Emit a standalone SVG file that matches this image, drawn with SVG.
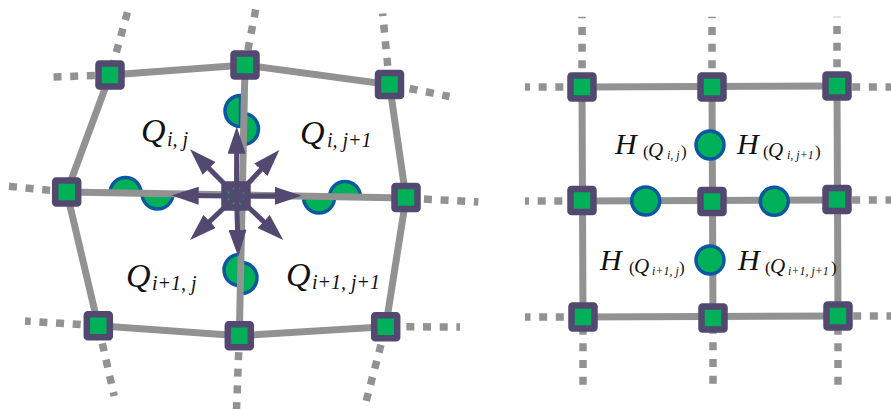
<svg xmlns="http://www.w3.org/2000/svg" width="891" height="409" viewBox="0 0 891 409">
<defs>
<style>
.ln{stroke:#929292;stroke-width:7;fill:none;stroke-linecap:butt}
.dt{stroke:#929292;stroke-width:7.5;fill:none;stroke-dasharray:8 8.67}
.nd{fill:#00b15a;stroke:#534870;stroke-width:6.5}
.cc{fill:#00b15a;stroke:#0c58a0;stroke-width:3.5}
.ar{stroke:#534870;stroke-width:5;fill:none;marker-end:url(#ah)}
.t{font-family:"Liberation Serif","Times New Roman",serif;font-style:italic;fill:#111}
.p{font-family:"Liberation Serif","Times New Roman",serif;font-style:normal;fill:#111}
</style>
<marker id="ah" markerUnits="userSpaceOnUse" markerWidth="27" markerHeight="18" refX="17" refY="9" orient="auto">
<path d="M0,0 L27,9 L0,18 Z" fill="#534870"/>
</marker>
</defs>
<rect width="891" height="409" fill="#ffffff"/>

<g id="connectors">
<path class="dt" d="M110,75 L53,77" stroke-dashoffset="1.5"/>
<path class="dt" d="M110,75 L127.8,11" stroke-dashoffset="-7"/>
<path class="dt" d="M245,65 L255.8,9" stroke-dashoffset="1.5"/>
<path class="dt" d="M389.5,84.5 L382.7,13.5" stroke-dashoffset="-2.1"/>
<path class="dt" d="M389.5,84.5 L449.5,96.5" stroke-dashoffset="-3.8"/>
<path class="dt" d="M66.7,192 L8.5,186.3" stroke-dashoffset="0"/>
<path class="dt" d="M406,198 L478.3,202" stroke-dashoffset="-1.3"/>
<path class="dt" d="M98.3,325.7 L25,321" stroke-dashoffset="-1"/>
<path class="dt" d="M98.3,325.7 L114.2,396" stroke-dashoffset="-1.5"/>
<path class="dt" d="M239.3,335.7 L236.5,410" stroke-dashoffset="0.3"/>
<path class="dt" d="M385.7,326.7 L460,327" stroke-dashoffset="-4"/>
<path class="dt" d="M385.7,326.7 L365.7,403" stroke-dashoffset="-2"/>
<path class="dt" d="M582,87 L525,87" stroke-dashoffset="-2"/>
<path class="dt" d="M582,201 L525,201" stroke-dashoffset="-3"/>
<path class="dt" d="M583,317 L525,317" stroke-dashoffset="-2.5"/>
<path class="dt" d="M837,87 L891,87" stroke-dashoffset="1.5"/>
<path class="dt" d="M837,200 L891,200" stroke-dashoffset="1.5"/>
<path class="dt" d="M838,316 L891,316" stroke-dashoffset="1.5"/>
<path class="dt" d="M582,87 L582,16.7" stroke-dashoffset="-2"/>
<path class="dt" d="M712,87 L712,16.7" stroke-dashoffset="-2"/>
<path class="dt" d="M837,86 L837,16.7" stroke-dashoffset="-2"/>
<path class="dt" d="M583,317 L583,387" stroke-dashoffset="7"/>
<path class="dt" d="M713,318 L713,387" stroke-dashoffset="9"/>
<path class="dt" d="M838,316 L838,387" stroke-dashoffset="6"/>
</g>

<g id="arcs">
<path class="cc" d="M240.5,95.5 A15.5,15.5 0 0 0 240.5,126.5 Z"/>
<path class="cc" d="M243,113.5 A15.5,15.5 0 0 1 243,144.5 Z"/>
<path class="cc" d="M110,193 A15.5,15.5 0 0 1 141,193 Z"/>
<path class="cc" d="M142,193.5 A15.5,15.5 0 0 0 173,193.5 Z"/>
<path class="cc" d="M329.5,197 A15.5,15.5 0 0 1 360.5,197 Z"/>
<path class="cc" d="M303.5,197.5 A15.5,15.5 0 0 0 334.5,197.5 Z"/>
<path class="cc" d="M239.5,254.5 A15.5,15.5 0 0 0 239.5,285.5 Z"/>
<path class="cc" d="M241.5,262.5 A15.5,15.5 0 0 1 241.5,293.5 Z"/>
</g>

<g id="grid-lines">
<path class="ln" d="M110,75 L245,65 L389.5,84.5 L406,198 L385.7,326.7 L239.3,335.7 L98.3,325.7 L66.7,192 Z"/>
<path class="ln" d="M66.7,192 L406,198"/>
<path class="ln" d="M245,65 L239.3,335.7"/>
<path class="ln" d="M582,87 L837,86 M582,201 L837,200 M583,317 L838,316"/>
<path class="ln" d="M582,87 L583,317 M712,87 L713,318 M837,86 L838,316"/>
</g>

<g id="face-circles-right">
<circle class="cc" cx="710" cy="145" r="14"/>
<circle class="cc" cx="645.7" cy="201" r="14"/>
<circle class="cc" cx="774.3" cy="201.3" r="14"/>
<circle class="cc" cx="710" cy="260" r="14"/>
</g>

<g id="node-L1"><rect class="nd" x="98.5" y="63.5" width="23" height="23" rx="1"/></g>
<g id="node-L2"><rect class="nd" x="233.5" y="53.5" width="23" height="23" rx="1"/></g>
<g id="node-L3"><rect class="nd" x="378" y="73" width="23" height="23" rx="1"/></g>
<g id="node-L4"><rect class="nd" x="55.2" y="180.5" width="23" height="23" rx="1"/></g>
<g id="node-L6"><rect class="nd" x="394.5" y="186" width="23" height="23" rx="1"/></g>
<g id="node-L7"><rect class="nd" x="86.8" y="314.2" width="23" height="23" rx="1"/></g>
<g id="node-L8"><rect class="nd" x="227.8" y="324.2" width="23" height="23" rx="1"/></g>
<g id="node-L9"><rect class="nd" x="374.2" y="315.2" width="23" height="23" rx="1"/></g>
<g id="node-L5"><rect class="nd" x="224.5" y="184.5" width="23" height="23" rx="1"/></g>

<g id="arrows">
<path class="ar" d="M236.5,196 L236.7,136.7"/>
<path class="ar" d="M236.5,196 L238,246.7"/>
<path class="ar" d="M236.5,196 L181.7,195.5"/>
<path class="ar" d="M236.5,196 L291.7,195.7"/>
<path class="ar" d="M236.5,196 L197.1,156.4"/>
<path class="ar" d="M236.5,196 L272.5,157.3"/>
<path class="ar" d="M236.5,196 L197.3,233.1"/>
<path class="ar" d="M236.5,196 L276,233.2"/>
</g>

<g id="node-R1"><rect class="nd" x="570.5" y="75.5" width="23" height="23" rx="1"/></g>
<g id="node-R2"><rect class="nd" x="700.5" y="75.5" width="23" height="23" rx="1"/></g>
<g id="node-R3"><rect class="nd" x="825.5" y="74.5" width="23" height="23" rx="1"/></g>
<g id="node-R4"><rect class="nd" x="570.5" y="189" width="23" height="23" rx="1"/></g>
<g id="node-R5"><rect class="nd" x="700.5" y="190" width="23" height="23" rx="1"/></g>
<g id="node-R6"><rect class="nd" x="825.5" y="188" width="23" height="23" rx="1"/></g>
<g id="node-R7"><rect class="nd" x="571.5" y="305.5" width="23" height="23" rx="1"/></g>
<g id="node-R8"><rect class="nd" x="701.5" y="306.5" width="23" height="23" rx="1"/></g>
<g id="node-R9"><rect class="nd" x="826.5" y="304.5" width="23" height="23" rx="1"/></g>

<g id="labels-left">
<text class="t"><tspan x="141" y="142" font-size="34">Q</tspan><tspan x="167" y="146" font-size="20">i, j</tspan></text>
<text class="t"><tspan x="300" y="144" font-size="34">Q</tspan><tspan x="327" y="147" font-size="20">i, j+1</tspan></text>
<text class="t"><tspan x="126" y="287" font-size="34">Q</tspan><tspan x="152" y="290" font-size="20">i+1, j</tspan></text>
<text class="t"><tspan x="286" y="286" font-size="34">Q</tspan><tspan x="312" y="289" font-size="20">i+1, j+1</tspan></text>
</g>

<g id="labels-right">
<text><tspan class="t" x="615" y="154" font-size="30">H</tspan><tspan class="p" x="643" y="157" font-size="17">(</tspan><tspan class="t" x="648" y="157" font-size="21">Q</tspan><tspan class="t" x="667" y="159" font-size="12">i, j</tspan><tspan class="p" x="681" y="157" font-size="17">)</tspan></text>
<text><tspan class="t" x="737" y="154" font-size="30">H</tspan><tspan class="p" x="763" y="157" font-size="17">(</tspan><tspan class="t" x="768" y="157" font-size="21">Q</tspan><tspan class="t" x="787" y="159" font-size="12">i, j+1</tspan><tspan class="p" x="815" y="157" font-size="17">)</tspan></text>
<text><tspan class="t" x="600" y="270" font-size="30">H</tspan><tspan class="p" x="629" y="273" font-size="17">(</tspan><tspan class="t" x="634" y="273" font-size="21">Q</tspan><tspan class="t" x="652" y="275" font-size="12">i+1, j</tspan><tspan class="p" x="679" y="273" font-size="17">)</tspan></text>
<text><tspan class="t" x="738" y="270" font-size="30">H</tspan><tspan class="p" x="765" y="273" font-size="17">(</tspan><tspan class="t" x="770" y="273" font-size="21">Q</tspan><tspan class="t" x="788" y="275" font-size="12">i+1, j+1</tspan><tspan class="p" x="831" y="273" font-size="17">)</tspan></text>
</g>
</svg>
